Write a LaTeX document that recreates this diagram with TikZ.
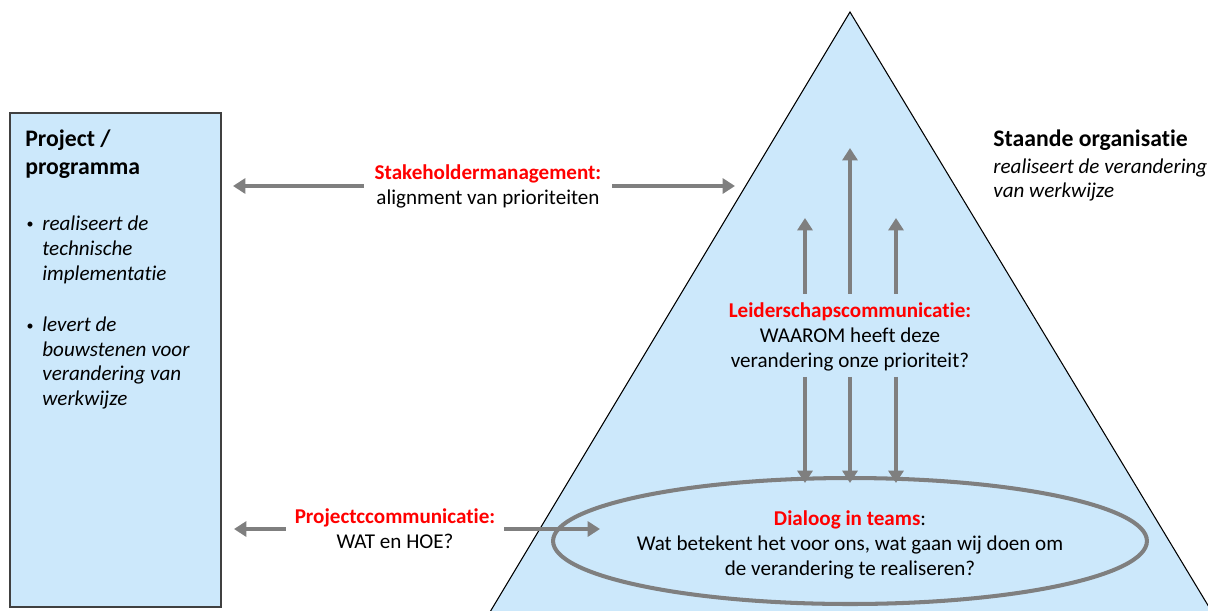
\documentclass[tikz,border=0pt]{standalone}
\usepackage{fontspec}
\setmainfont{Carlito}[Ligatures=NoCommon]
\usetikzlibrary{arrows.meta}
\definecolor{lightblue}{HTML}{CCE8FB}
\definecolor{arrowgray}{HTML}{7F7F7F}
\definecolor{boxgray}{HTML}{404040}
\definecolor{labelred}{HTML}{FF0000}
\begin{document}
\begin{tikzpicture}[x=0.02cm,y=-0.02cm,
    fat/.style={draw=arrowgray,line width=2.8pt,-{Triangle[length=7pt,width=8.5pt]}},
    txt/.style={font=\fontsize{12}{14.2}\selectfont,align=center,inner sep=0pt},
    note/.style={font=\itshape\fontsize{12}{14.2}\selectfont,align=left,inner sep=0pt},
    head/.style={font=\bfseries\fontsize{13.5}{15.9}\selectfont,align=left,inner sep=0pt}]
  \useasboundingbox (0,0) rectangle (1208,610);
  % staande organisatie
  \fill[lightblue] (490,612) -- (850,12) -- (1212,612) -- cycle;
  \draw[line width=0.6pt] (490,612) -- (850,12) -- (1212,612);
  \draw[arrowgray,line width=2.3pt] (850,541) ellipse [x radius=5.94cm,y radius=1.26cm];
  \node[head,anchor=west] (staande) at (993,140) {Staande organisatie};
  \node[note,anchor=west] (staandetxt) at (993,180) {realiseert de verandering\\van werkwijze};
  % project box
  \draw[fill=lightblue,draw=boxgray,line width=0.8pt] (10,113) rectangle (221,607);
  \node[head,anchor=west] (proj) at (25,154) {Project /\\programma};
  \foreach \y/\txt [count=\i] in {250/{realiseert de\\technische\\implementatie},
      363/{levert de\\bouwstenen voor\\verandering van\\werkwijze}} {
    \node[note,anchor=west] (item\i) at (42,\y) {\txt};
  }
  \node[font=\fontsize{8}{8}\selectfont,inner sep=0pt] (dot1) at (30,225) {\textbullet};
  \node[font=\fontsize{8}{8}\selectfont,inner sep=0pt] (dot2) at (30,327) {\textbullet};
  % labels
  \node[txt] (stake) at (488,186) {\textcolor{labelred}{\bfseries Stakeholdermanagement:}\\alignment van prioriteiten};
  \node[txt] (pcomm) at (395,529) {\textcolor{labelred}{\bfseries Projectccommunicatie:}\\WAT en HOE?};
  \node[txt] (lead) at (850,337) {\textcolor{labelred}{\bfseries Leiderschapscommunicatie:}\\WAAROM heeft deze\\verandering onze prioriteit?};
  \node[txt] (dial) at (850,545) {\textcolor{labelred}{\bfseries Dialoog in teams}:\\Wat betekent het voor ons, wat gaan wij doen om\\de verandering te realiseren?};
  % horizontal arrows
  \coordinate (stakeL) at (233,186);
  \coordinate (stakeR) at (735,186);
  \coordinate (pcommL) at (234,529);
  \coordinate (pcommR) at (600,529);
  \draw[fat,shorten <=6pt] (stake.west) -- (stakeL);
  \draw[fat,shorten <=6pt] (stake.east) -- (stakeR);
  \draw[fat,shorten <=5pt] (pcomm.west) -- (pcommL);
  \draw[fat,shorten <=5pt] (pcomm.east) -- (pcommR);
  % vertical arrows
  \foreach \x/\t [count=\i] in {805/218, 850/148, 896/218} {
    \coordinate (up\i) at (\x,\t);
    \coordinate (dn\i) at (\x,483);
    \draw[fat,shorten <=5pt] (lead.north -| up\i) -- (up\i);
    \draw[fat,shorten <=3pt] (lead.south -| dn\i) -- (dn\i);
  }
\end{tikzpicture}
\end{document}
